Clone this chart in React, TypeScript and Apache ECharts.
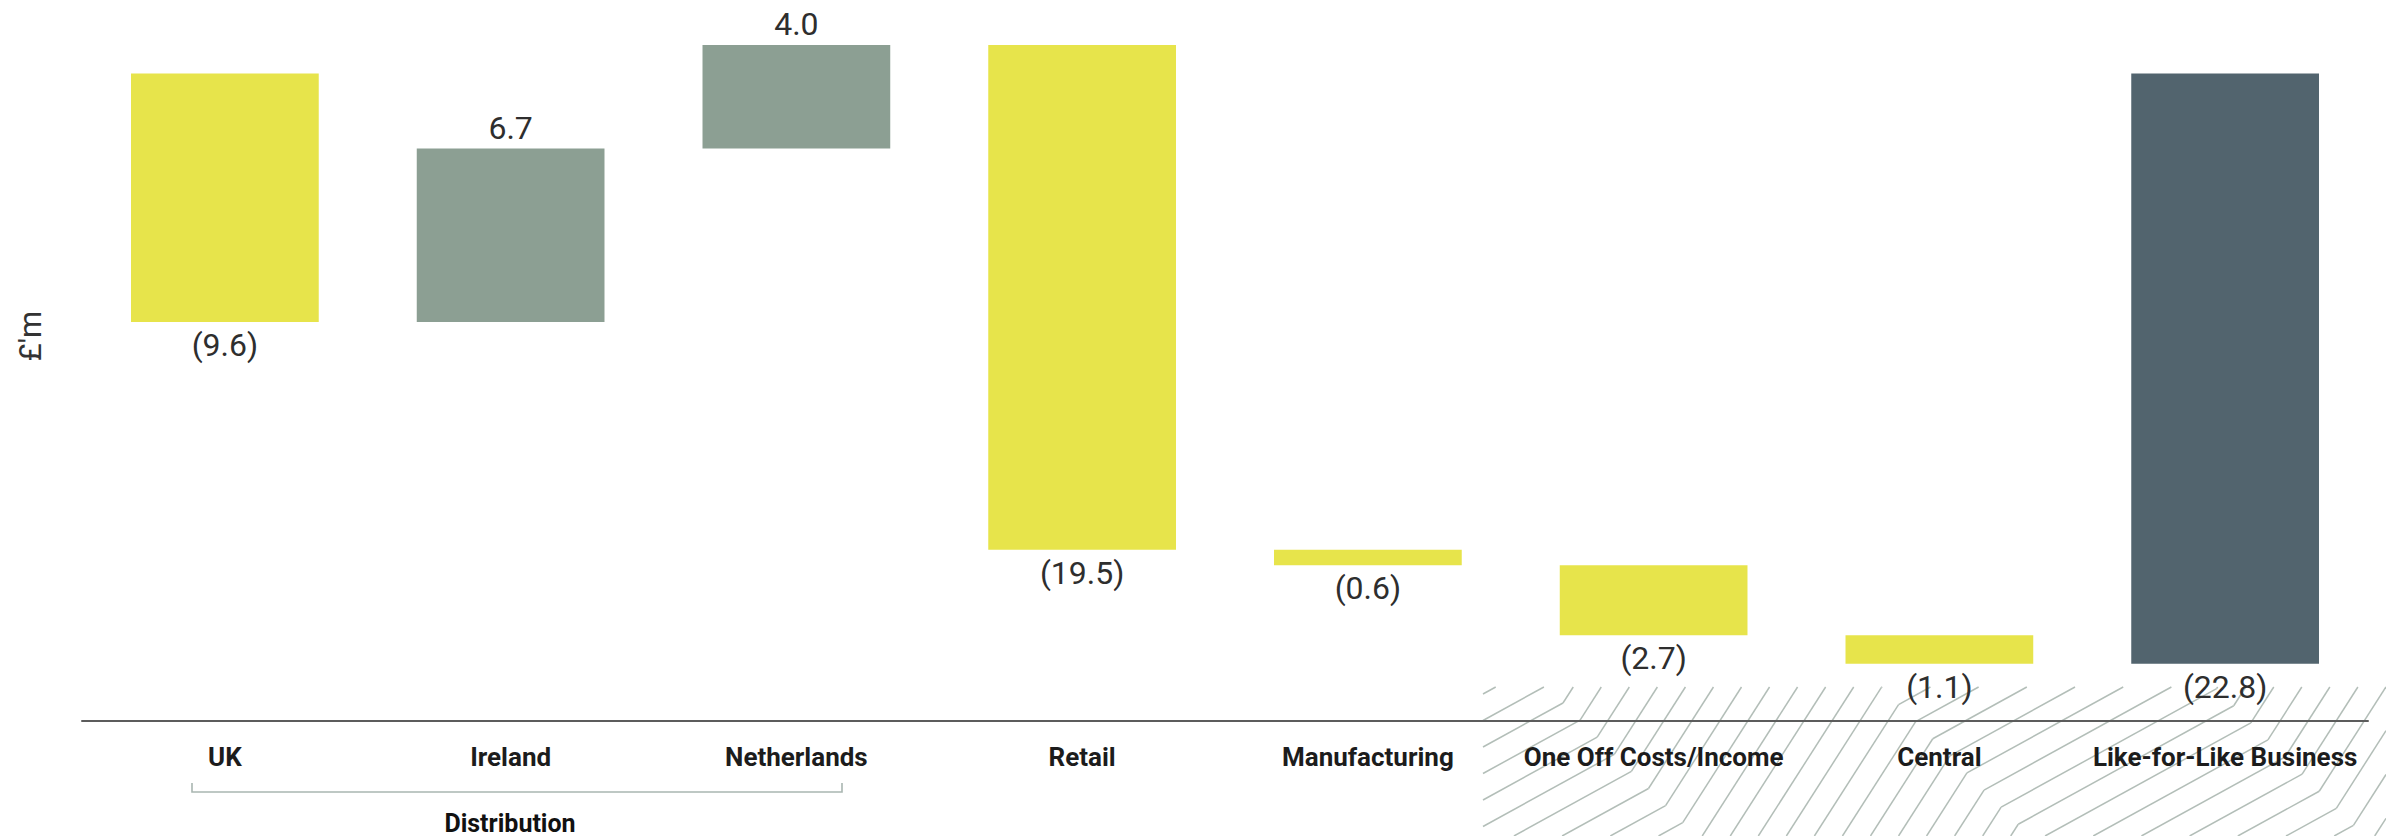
import React, { useEffect, useRef } from "react";
import * as echarts from "echarts";

const categories = [
  "UK",
  "Ireland",
  "Netherlands",
  "Retail",
  "Manufacturing",
  "One Off Costs/Income",
  "Central",
  "Like-for-Like Business",
];
const changes = [-9.6, 6.7, 4.0, -19.5, -0.6, -2.7, -1.1];
const totalValue = -22.8;
const groupLabel = "Distribution";
const unitLabel = "£'m";

const COLOR_NEG = "#e7e44b";
const COLOR_POS = "#8c9f93";
const COLOR_TOTAL = "#52646e";
const HATCH_COLOR = "#b3beb8";

function buildWaterfall() {
  const rows: number[][] = [];
  let level = 0;
  changes.forEach((v, i) => {
    const start = level;
    const end = level + v;
    rows.push([i, Math.min(start, end), Math.max(start, end), v, v < 0 ? 0 : 1]);
    level = end;
  });
  rows.push([changes.length, Math.min(0, totalValue), Math.max(0, totalValue), totalValue, 2]);
  return rows;
}

type Rect = { left: number; top: number; right: number; bottom: number };

function clipSeg(x1: number, y1: number, x2: number, y2: number, r: Rect) {
  let t0 = 0;
  let t1 = 1;
  const dx = x2 - x1;
  const dy = y2 - y1;
  const p = [-dx, dx, -dy, dy];
  const q = [x1 - r.left, r.right - x1, y1 - r.top, r.bottom - y1];
  for (let i = 0; i < 4; i++) {
    if (p[i] === 0) {
      if (q[i] < 0) return null;
    } else {
      const t = q[i] / p[i];
      if (p[i] < 0) {
        if (t > t1) return null;
        if (t > t0) t0 = t;
      } else {
        if (t < t0) return null;
        if (t < t1) t1 = t;
      }
    }
  }
  if (t1 - t0 < 1e-6) return null;
  return [x1 + t0 * dx, y1 + t0 * dy, x1 + t1 * dx, y1 + t1 * dy];
}

function buildHatch() {
  const r: Rect = { left: 1483, top: 687, right: 2386, bottom: 836 };
  const steep = [0.64, -1];
  const shallow = [1, -0.55];
  const k1 = 1563;
  const bandW = 334;
  const d = 17.1;
  const els: any[] = [];
  for (let k = -70; k <= 90; k++) {
    const t = k * d;
    const seed = [k1 + t, 703 + t];
    const down = [seed[0] - 900, seed[1] + 495];
    const s1 = bandW / 1.64;
    const p1 = [seed[0] + s1 * steep[0], seed[1] + s1 * steep[1]];
    const s2 = bandW / 1.55;
    const p2 = [p1[0] + s2 * shallow[0], p1[1] + s2 * shallow[1]];
    const p3 = [p2[0] + 500 * steep[0], p2[1] + 500 * steep[1]];
    const pts = [down, seed, p1, p2, p3];
    for (let j = 0; j < pts.length - 1; j++) {
      const c = clipSeg(pts[j][0], pts[j][1], pts[j + 1][0], pts[j + 1][1], r);
      if (c) {
        els.push({
          type: "line",
          silent: true,
          z: -5,
          shape: { x1: c[0], y1: c[1], x2: c[2], y2: c[3] },
          style: { stroke: HATCH_COLOR, lineWidth: 1.5 },
        });
      }
    }
  }
  return els;
}

export default function App() {
  const ref = useRef<HTMLDivElement>(null);

  useEffect(() => {
    if (!ref.current) return;
    const chart = echarts.init(ref.current, undefined, { renderer: "svg" });
    const data = buildWaterfall();

    const option: any = {
      animation: false,
      backgroundColor: "#ffffff",
      grid: { left: 82, right: 18, top: 21.7, bottom: 115.3, containLabel: false },
      xAxis: {
        type: "category",
        data: categories,
        boundaryGap: true,
        axisLine: { show: true, onZero: false, lineStyle: { color: "#5c5c5c", width: 2 } },
        axisTick: { show: false },
        axisLabel: {
          interval: 0,
          margin: 23,
          fontSize: 26,
          fontWeight: "bold",
          fontFamily: "Roboto",
          color: "#1c1c1c",
        },
        splitLine: { show: false },
        z: 1,
      },
      yAxis: {
        type: "value",
        min: -25,
        max: 2,
        show: false,
        splitLine: { show: false },
      },
      series: [
        {
          type: "custom",
          data,
          encode: { x: 0, y: [1, 2] },
          z: 3,
          renderItem: (params: any, api: any) => {
            const idx = api.value(0);
            const lo = api.value(1);
            const hi = api.value(2);
            const v = api.value(3);
            const kind = api.value(4);
            const top = api.coord([idx, hi]);
            const bot = api.coord([idx, lo]);
            const band = api.size([1, 0])[0];
            const w = band * 0.657;
            const fill = kind === 2 ? COLOR_TOTAL : kind === 1 ? COLOR_POS : COLOR_NEG;
            const text = v < 0 ? `(${Math.abs(v).toFixed(1)})` : v.toFixed(1);
            const ty = v < 0 ? bot[1] + 23 : top[1] - 21;
            return {
              type: "group",
              children: [
                {
                  type: "rect",
                  shape: { x: top[0] - w / 2, y: top[1], width: w, height: bot[1] - top[1] },
                  style: { fill },
                },
                {
                  type: "text",
                  style: {
                    text,
                    x: top[0],
                    y: ty,
                    align: "center",
                    verticalAlign: "middle",
                    fontSize: 32,
                    fontFamily: "Roboto",
                    fill: "#2e2e2e",
                  },
                },
              ],
            };
          },
        },
      ],
      graphic: [
        ...buildHatch(),
        {
          type: "text",
          x: 30,
          y: 336,
          rotation: Math.PI / 2,
          style: {
            text: unitLabel,
            align: "center",
            verticalAlign: "middle",
            fontSize: 31,
            fontFamily: "Roboto",
            fill: "#333333",
          },
        },
        {
          type: "polyline",
          shape: { points: [[192, 783], [192, 792], [842, 792], [842, 783]] },
          style: { stroke: "#a9b6b1", lineWidth: 1.6, fill: null },
        },
        {
          type: "text",
          x: 510,
          y: 823,
          style: {
            text: groupLabel,
            align: "center",
            verticalAlign: "middle",
            fontSize: 25,
            fontWeight: "bold",
            fontFamily: "Roboto",
            fill: "#111111",
          },
        },
      ],
    };
    chart.setOption(option);
    return () => chart.dispose();
  }, []);

  return (
    <div
      ref={ref}
      style={{ position: "absolute", left: 0, top: 0, width: 2386, height: 836, background: "#fff" }}
    />
  );
}
